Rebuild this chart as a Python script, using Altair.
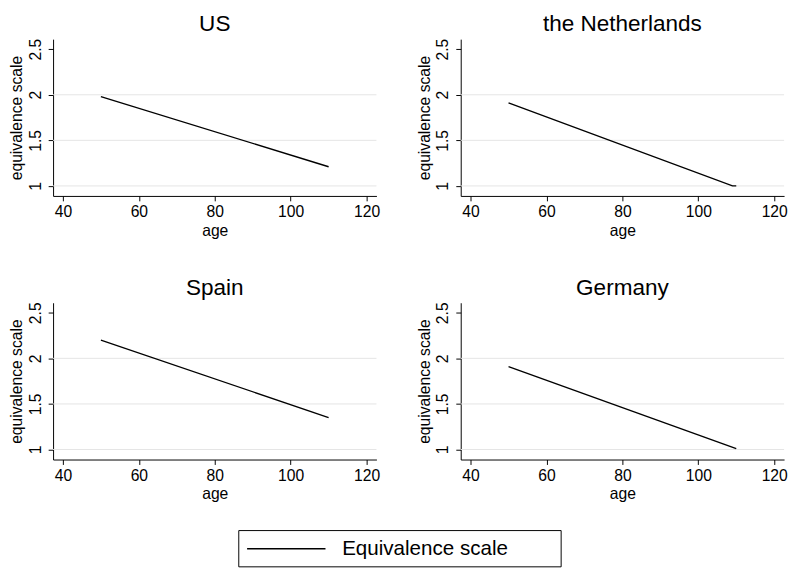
import altair as alt
import pandas as pd

# ---- data ----
countries = ["US", "the Netherlands", "Spain", "Germany"]
us_age = [50, 110]
us_val = [1.98, 1.21]
nl_age = [50, 109, 110]
nl_val = [1.91, 1.00, 1.00]
es_age = [50, 110]
es_val = [2.20, 1.35]
de_age = [50, 110]
de_val = [1.91, 1.01]
x_ticks = [40, 60, 80, 100, 120]
y_ticks = [1, 1.5, 2, 2.5]
grid_vals = [1, 1.5, 2]
series_name = "Equivalence scale"

FONT = "Liberation Sans"
W, H = 330, 160

x_scale = alt.Scale(domain=[37.4, 122.6], nice=False, zero=False)
y_scale = alt.Scale(domain=[0.89, 2.61], nice=False, zero=False)

x_axis = alt.Axis(values=x_ticks, title="age", grid=False, labelPadding=3,
                  titlePadding=3, format="d")
y_axis = alt.Axis(values=y_ticks, title="equivalence scale", grid=False,
                  labelAngle=270, labelAlign="center", labelBaseline="bottom",
                  labelPadding=5, titlePadding=3, labelExpr="datum.value")

color = alt.Color("series:N",
                  scale=alt.Scale(domain=[series_name], range=["black"]),
                  legend=alt.Legend(orient="none", legendX=189, legendY=501,
                                    title="\u00a0", titleOrient="right",
                                    titlePadding=46, titleFontSize=21,
                                    symbolType="M-4,0H4",
                                    symbolSize=400, symbolStrokeWidth=1.4,
                                    symbolStrokeColor="black",
                                    labelFontSize=21, labelFont=FONT,
                                    labelColor="black", labelOffset=46,
                                    labelLimit=400, symbolOffset=30,
                                    strokeColor="black", padding=8,
                                    fillColor="white"))


def panel(title, ages, vals):
    df = pd.DataFrame({"age": ages, "value": vals,
                       "series": [series_name] * len(ages)})
    grid = pd.DataFrame({"value": grid_vals})
    rules = alt.Chart(grid).mark_rule(color="#e4e4e4", strokeWidth=1).encode(
        y=alt.Y("value:Q", scale=y_scale, axis=y_axis)
    )
    line = alt.Chart(df).mark_line(strokeWidth=1.4).encode(
        x=alt.X("age:Q", scale=x_scale, axis=x_axis),
        y=alt.Y("value:Q", scale=y_scale, axis=y_axis),
        color=color,
    )
    return alt.layer(rules, line).properties(
        width=W, height=H, title=alt.TitleParams(title)
    )


p1 = panel(countries[0], us_age, us_val)
p2 = panel(countries[1], nl_age, nl_val)
p3 = panel(countries[2], es_age, es_val)
p4 = panel(countries[3], de_age, de_val)

top = alt.hconcat(p1, p2, spacing=36)
bottom = alt.hconcat(p3, p4, spacing=36)

chart = (
    alt.vconcat(top, bottom, spacing=40)
    .properties(padding={"left": 0, "top": 0, "right": 0, "bottom": 0},
                background="white")
    .configure_view(stroke=None)
    .configure_axis(domainColor="black", domainWidth=1, tickColor="black",
                    tickWidth=1, tickSize=5, labelFont=FONT, titleFont=FONT,
                    labelFontSize=16, titleFontSize=16, labelColor="black",
                    titleColor="black", titleFontWeight="normal")
    .configure_title(font=FONT, fontSize=23, fontWeight="normal",
                     color="black", offset=2)
)

chart.save("out.html", embed_options={"renderer": "svg", "actions": False})
